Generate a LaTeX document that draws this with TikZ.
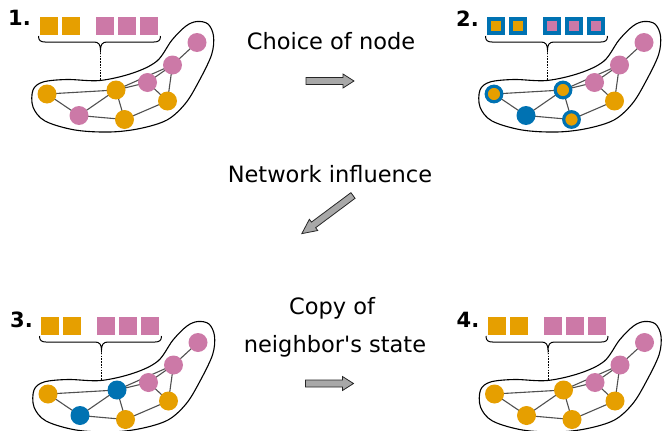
\documentclass[tikz,border=0pt]{standalone}
\usepackage{fontspec}
\setmainfont{DejaVu Sans}[Ligatures=TeXOff]
\usetikzlibrary{backgrounds}
\definecolor{orC}{HTML}{E69F00}
\definecolor{pkC}{HTML}{CC79A7}
\definecolor{blC}{HTML}{0072B2}
\definecolor{arrC}{HTML}{A8A8A8}
\definecolor{edgeC}{HTML}{505050}

\tikzset{
  vnode/.style={circle, inner sep=0pt, minimum size=19pt},
  orn/.style={vnode, fill=orC},
  pkn/.style={vnode, fill=pkC},
  bln/.style={vnode, fill=blC},
  ringn/.style={vnode, fill=orC, draw=blC, line width=3.2pt, minimum size=15.6pt},
  sqbox/.style={rectangle, inner sep=0pt, minimum size=18pt},
  sqor/.style={sqbox, fill=orC},
  sqpk/.style={sqbox, fill=pkC},
  sqorring/.style={sqbox, fill=orC, draw=blC, line width=4pt, minimum size=14pt},
  sqpkring/.style={sqbox, fill=pkC, draw=blC, line width=4pt, minimum size=14pt},
  hull/.style={draw=black, line width=1.1pt},
  edgeln/.style={draw=edgeC, line width=1.1pt},
  braceln/.style={draw=black, line width=1pt},
  dashln/.style={draw=black, line width=0.9pt, dash pattern=on 1.6pt off 1.2pt},
  lbl/.style={font=\fontsize{22.5}{27}\selectfont, inner sep=0pt},
  numlbl/.style={font=\bfseries\fontsize{21}{25}\selectfont, inner sep=0pt, anchor=base west},
  blockarrow/.style={draw=black!85, fill=arrC, line width=0.8pt, line join=miter},
}

% #1 prefix, #2..#9 styles of nodes a..h
\newcommand\drawnet[9]{%
  \draw[hull] plot[smooth cycle, tension=0.55] coordinates {
    (100,80.5) (133,73) (157,61) (172,40) (186,26) (197,21.5) (208,24)
    (213.5,36) (211.5,55) (198,83) (185,104) (167,120) (140,128.5)
    (110,132) (75,130) (45,121) (33,107) (33,90) (43,82) (67,79.5)};
  \node[#2] (#1a) at (47,94) {};
  \node[#3] (#1b) at (79,115.5) {};
  \node[#4] (#1c) at (116,90) {};
  \node[#5] (#1d) at (124.5,119.5) {};
  \node[#6] (#1e) at (147.5,82.5) {};
  \node[#7] (#1f) at (167.5,101) {};
  \node[#8] (#1g) at (172.5,65) {};
  \node[#9] (#1h) at (197,42.5) {};
  \begin{pgfonlayer}{background}
    \draw[edgeln] (#1a.center)--(#1b.center) (#1a.center)--(#1c.center)
      (#1b.center)--(#1c.center) (#1b.center)--(#1d.center)
      (#1c.center)--(#1d.center) (#1c.center)--(#1e.center)
      (#1c.center)--(#1g.center) (#1e.center)--(#1g.center)
      (#1e.center)--(#1f.center) (#1g.center)--(#1f.center)
      (#1g.center)--(#1h.center) (#1d.center)--(#1f.center);
  \end{pgfonlayer}
  \coordinate (#1tip) at (100.5,50);
  \coordinate (#1hul) at (100.5,80.5);
  \draw[braceln] (38.5,36) .. controls (38.5,40.5) and (40.5,42) .. (45,42)
    -- (94,42) .. controls (98.5,42) and (100.5,44.5) .. (#1tip)
    .. controls (100.5,44.5) and (102.5,42) .. (107,42)
    -- (154,42) .. controls (158.5,42) and (160.5,40.5) .. (160.5,36);
  \draw[dashln] (#1tip) -- (#1hul);
}
% #1 prefix, #2 orange style, #3 pink style
\newcommand\drawsq[3]{%
  \node[#2] (#1s1) at (49,26) {};
  \node[#2] (#1s2) at (71,26) {};
  \node[#3] (#1s3) at (105,26) {};
  \node[#3] (#1s4) at (127,26) {};
  \node[#3] (#1s5) at (149,26) {};
}
\newcommand\blockarr{%
  (0,-3.5) -- (37,-3.5) -- (37,-7) -- (48,0) -- (37,7) -- (37,3.5) -- (0,3.5) -- cycle}

\begin{document}
\begin{tikzpicture}[x=1pt, y=-1pt]
\useasboundingbox (0,0) rectangle (670,431);
\clip (0,0) rectangle (670,431);

% panel 1
\begin{scope}[shift={(0,0)}]
  \node[numlbl] (n1) at (8,25.5) {1.};
  \drawsq{pa}{sqor}{sqpk}
  \drawnet{pa}{orn}{pkn}{orn}{orn}{pkn}{orn}{pkn}{pkn}
\end{scope}

% panel 2
\begin{scope}[shift={(447,0)}]
  \node[numlbl] (n2) at (9,27) {2.};
  \drawsq{pb}{sqorring}{sqpkring}
  \drawnet{pb}{ringn}{bln}{ringn}{ringn}{pkn}{orn}{pkn}{pkn}
\end{scope}

% panel 3
\begin{scope}[shift={(1,300)}]
  \node[numlbl] (n3) at (9,27.5) {3.};
  \drawsq{pc}{sqor}{sqpk}
  \drawnet{pc}{orn}{bln}{bln}{orn}{pkn}{orn}{pkn}{pkn}
\end{scope}

% panel 4
\begin{scope}[shift={(447.5,300)}]
  \node[numlbl] (n4) at (9,27) {4.};
  \drawsq{pd}{sqor}{sqpk}
  \drawnet{pd}{orn}{orn}{orn}{orn}{pkn}{orn}{pkn}{pkn}
\end{scope}

% middle texts
\node[lbl, anchor=base] (t1) at (331,49.5) {Choice of node};
\node[lbl, anchor=base] (t2) at (330,182) {Network influence};
\node[lbl, anchor=base] (t3) at (332,314) {Copy of};
\node[lbl, anchor=base] (t4) at (335,352) {neighbor's state};

% block arrows
\draw[blockarrow, shift={(306,81)}] \blockarr;
\draw[blockarrow, shift={(305.5,383.5)}] \blockarr;
\draw[blockarrow, shift={(353,195.5)}, rotate=216.7, x={(1.33pt,0pt)}] \blockarr;
\end{tikzpicture}
\end{document}
